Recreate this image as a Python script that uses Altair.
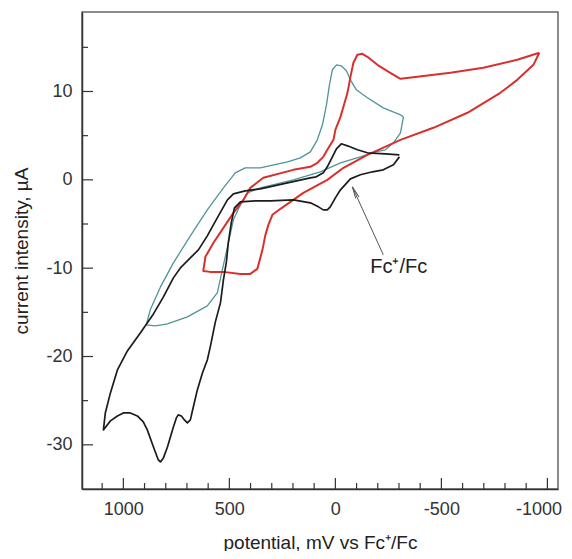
import altair as alt
import pandas as pd

# ---- data (potential in mV vs Fc+/Fc, current in µA) ----
black_mv = [-302, -236, -151, -104, -57, -28, -5, 14, 38, 57, 90, 118, 226, 354, 425, 481, 509, 557, 604, 646,
            684, 731, 764, 811, 858, 920, 981, 1028, 1061, 1085, 1094, 1061, 1028, 1000, 967, 934, 906, 887, 858, 835,
            825, 811, 792, 764, 750, 741, 726, 712, 698, 684, 670, 651, 627, 604, 590, 566, 542, 528, 514, 505,
            491, 476, 448, 377, 307, 198, 118, 80, 57, 38, 24, 0, -24, -71, -118, -175, -226, -274, -302]
black_ua = [2.83, 2.94, 3.06, 3.40, 3.85, 4.08, 3.51, 2.60, 1.47, 0.79, 0.34, 0.23, -0.34, -1.02, -1.25, -1.59, -2.27, -4.30, -6.34, -7.93,
            -8.83, -9.97, -11.10, -13.25, -15.18, -17.33, -19.37, -21.52, -24.12, -26.39, -28.31, -27.29, -26.73, -26.39, -26.39, -26.73, -27.41, -28.31, -30.24, -31.71,
            -31.94, -31.48, -30.24, -27.97, -26.95, -26.61, -26.73, -27.18, -27.52, -27.18, -25.71, -23.78, -21.86, -20.39, -18.91, -16.08, -13.93, -11.33, -9.29, -7.13,
            -4.87, -3.17, -2.49, -2.38, -2.38, -2.27, -2.60, -3.06, -3.40, -3.40, -3.06, -2.04, -1.13, 0.11, 0.57, 0.91, 1.13, 1.70, 2.60]

red_mv = [-962, -858, -698, -542, -387, -307, -259, -198, -151, -127, -104, -85, -71, -57, -38, -24, 0, 9, 38, 57,
          85, 118, 198, 340, 401, 434, 481, 528, 575, 613, 623, 590, 528, 448, 401, 368, 344, 330, 316, 297,
          259, 212, 151, 38, -38, -151, -307, -462, -623, -778, -858, -934, -962]
red_ua = [14.38, 13.59, 12.68, 12.12, 11.66, 11.44, 12.12, 13.02, 13.93, 14.27, 14.16, 13.25, 11.66, 9.85, 8.27, 7.13, 5.66, 4.53, 3.40, 2.60,
          1.93, 1.47, 1.13, 0.23, -0.91, -2.27, -3.74, -5.44, -7.13, -8.72, -10.31, -10.42, -10.42, -10.65, -10.65, -10.08, -7.93, -6.23, -5.10, -3.96,
          -3.28, -2.49, -1.47, 0.0, 1.36, 2.83, 4.53, 5.89, 7.59, 9.85, 11.32, 13.02, 14.38]

teal_mv = [-321, -307, -226, -151, -99, -71, -52, -28, -5, 14, 28, 42, 61, 85, 118, 165, 226, 354, 425, 472,
           528, 604, 684, 764, 825, 873, 892, 849, 792, 698, 604, 557, 533, 509, 481, 448, 415, 354, 198, 71,
           -24, -118, -189, -236, -274, -307, -321]
teal_ua = [7.13, 7.36, 8.15, 9.29, 10.19, 11.32, 12.34, 12.91, 13.02, 12.46, 10.76, 8.49, 6.23, 4.53, 3.17, 2.49, 2.04, 1.36, 1.36, 0.79,
           -0.91, -3.40, -6.34, -9.40, -12.12, -14.72, -16.42, -16.53, -16.31, -15.52, -14.27, -12.80, -10.19, -7.59, -4.53, -2.83, -1.47, -0.91, 0.0, 0.91,
           1.93, 2.60, 3.17, 3.40, 4.19, 5.32, 7.13]

x_major = [1000, 500, 0, -500, -1000]
x_minor = [1100, 900, 800, 700, 600, 400, 300, 200, 100, -100, -200, -300, -400, -600, -700, -800, -900]
y_major = [10, 0, -10, -20, -30]
y_minor = [15, 5, -5, -15, -25]

annot_text = ["Fc\u207a/Fc"]
annot_mv = [-299]
annot_ua = [-9.9]
arrow_mv = [-226, -80]
arrow_ua = [-8.49, -0.79]

x_title = "potential, mV vs Fc\u207a/Fc"
y_title = "current intensity, \u00b5A"

# ---- build tables ----
def frame(mv, ua):
    return pd.DataFrame({"mv": mv, "ua": ua, "step": list(range(len(mv)))})

W, H = 476, 477
xscale = alt.Scale(domain=[1195, -1050], nice=False, zero=False)
yscale = alt.Scale(domain=[-35, 19], nice=False, zero=False)

xaxis = alt.Axis(values=x_major, ticks=False, grid=False, labelPadding=11,
                 labelExpr="'' + datum.value", titlePadding=15,
                 labelOffset={"condition": {"test": "datum.value == -1000", "value": -9}, "value": 0})
yaxis = alt.Axis(values=y_major, ticks=False, grid=False, labelPadding=10,
                 labelExpr="'' + datum.value", titlePadding=14)

def X(field):
    return alt.X(field, type="quantitative", scale=xscale, axis=xaxis, title=x_title)

def Y(field):
    return alt.Y(field, type="quantitative", scale=yscale, axis=yaxis, title=y_title)

def curve(mv, ua, color, width):
    return alt.Chart(frame(mv, ua)).mark_line(color=color, strokeWidth=width, strokeJoin="round").encode(
        x=X("mv"), y=Y("ua"), order=alt.Order("step:Q"))

teal = curve(teal_mv, teal_ua, "#4f9499", 1.3)
red = curve(red_mv, red_ua, "#d8302c", 2.0)
black = curve(black_mv, black_ua, "#1c1c1c", 1.7)

# inward tick marks
def xticks(vals, length):
    return alt.Chart(pd.DataFrame({"v": vals})).mark_rule(color="#333", strokeWidth=1.2).encode(
        x=X("v"), y=alt.value(H), y2=alt.value(H - length))

def yticks(vals, length):
    return alt.Chart(pd.DataFrame({"v": vals})).mark_rule(color="#333", strokeWidth=1.2).encode(
        y=Y("v"), x=alt.value(0), x2=alt.value(length))

ticks = [xticks(x_major, 11), xticks(x_minor, 6), yticks(y_major, 11), yticks(y_minor, 6)]

# annotation
arrow_line = alt.Chart(pd.DataFrame({"mv": arrow_mv, "ua": arrow_ua})).mark_line(
    color="#555", strokeWidth=1).encode(x=X("mv"), y=Y("ua"))
arrow_head = alt.Chart(pd.DataFrame({"mv": arrow_mv[1:], "ua": arrow_ua[1:]})).mark_point(
    shape="M0,0L-0.3,2M0,0L0.3,2", size=144, filled=False, color="#555", strokeWidth=1,
    angle=335, opacity=1).encode(x=X("mv"), y=Y("ua"))
label = alt.Chart(pd.DataFrame({"mv": annot_mv, "ua": annot_ua, "t": annot_text})).mark_text(
    font="Liberation Sans", fontSize=20, color="#222", align="center", baseline="middle").encode(
    x=X("mv"), y=Y("ua"), text="t:N")

chart = alt.layer(teal, red, black, *ticks, arrow_line, arrow_head, label).properties(
    width=W, height=H,
    padding={"left": 74, "top": 4, "right": 6, "bottom": 62},
    autosize=alt.AutoSizeParams(type="none"),
).configure_axis(
    labelFont="Liberation Sans", labelFontSize=18, labelColor="#333",
    titleFont="Liberation Sans", titleFontSize=19, titleFontWeight="normal", titleColor="#222",
    domainColor="#333", domainWidth=1.5,
).configure_view(stroke="#666", strokeWidth=1.5)

chart.save("out.html", embed_options={"renderer": "svg", "actions": False})
